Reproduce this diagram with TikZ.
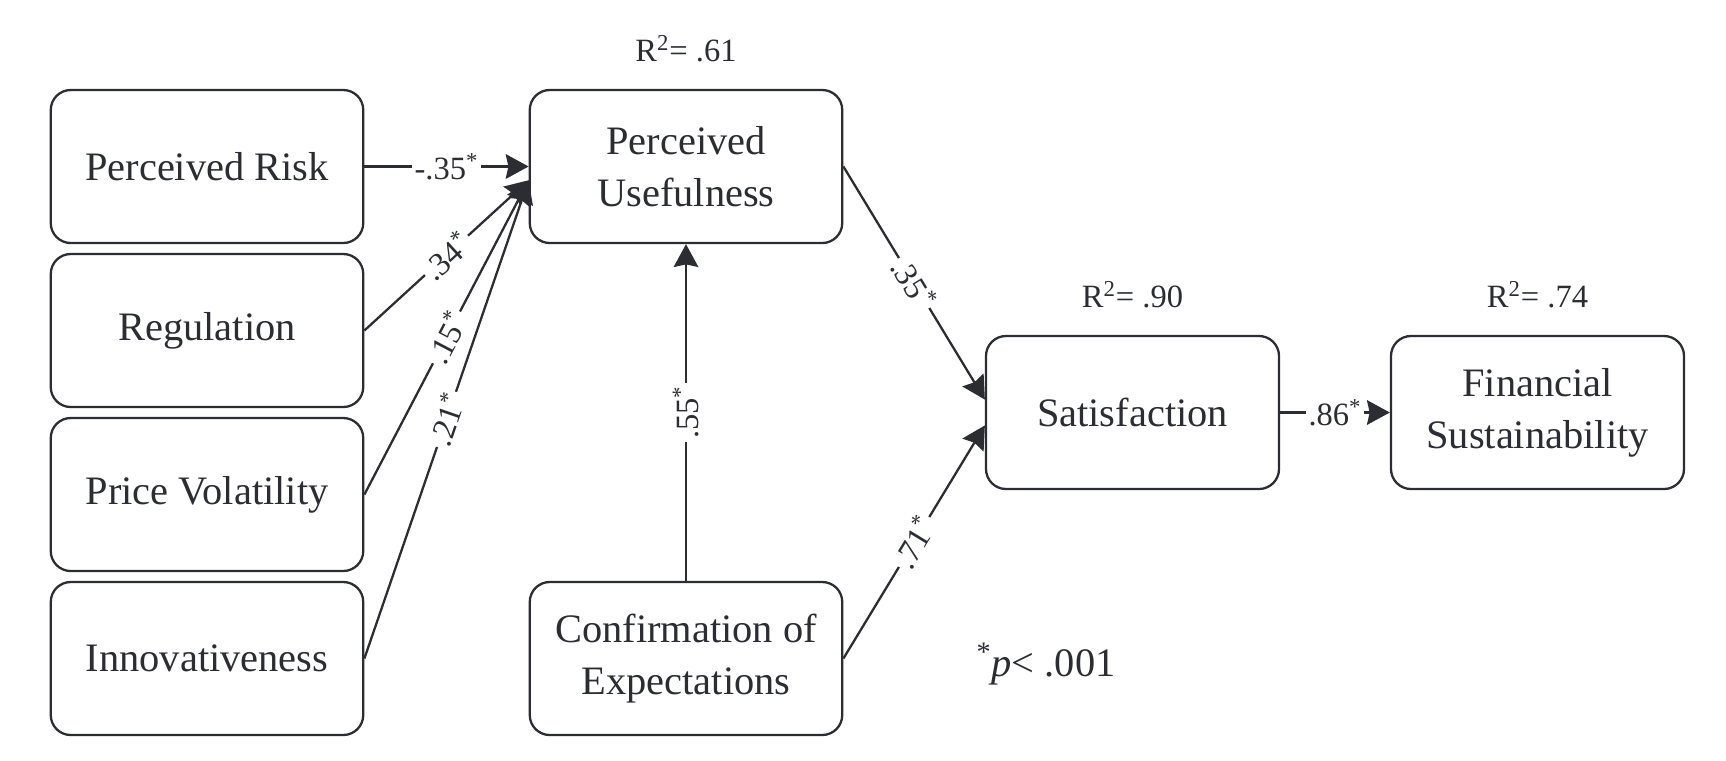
\documentclass[tikz,border=0pt]{standalone}
\usepackage{fontspec}
\setmainfont{Liberation Serif}
\usetikzlibrary{arrows.meta,positioning}
\definecolor{inkgray}{RGB}{43,45,51}
\tikzset{
  factor/.style={draw=inkgray, line width=1.3pt, rounded corners=0.4cm,
    minimum width=6.25cm, minimum height=3.06cm, align=center,
    text=inkgray, font=\fontsize{23}{29.5}\selectfont},
  link/.style={draw=inkgray, line width=1.3pt,
    -{Stealth[length=13pt,width=14pt,inset=1.5pt]}},
  coef/.style={fill=white, inner sep=1.5pt, sloped, text=inkgray,
    font=\fontsize{18.5}{22}\selectfont},
  rsq/.style={text=inkgray, font=\fontsize{18.5}{22}\selectfont}
}
\begin{document}
\begin{tikzpicture}
        \useasboundingbox (0,0) rectangle (34.52,-15.2);
        %% Predictors
        \node[factor] (risk) at (4.14,-3.33) {Perceived Risk};
        \node[factor] (regul) at (4.14,-6.61) {Regulation};
        \node[factor] (volat) at (4.14,-9.89) {Price Volatility};
        \node[factor] (innov) at (4.14,-13.17) {Innovativeness};
        %% Middle
        \node[factor] (useful) at (13.72,-3.33) {Perceived\\Usefulness};
        \node[factor] (confirm) at (13.72,-13.17) {Confirmation of\\Expectations};
        %% Outcomes
        \node[factor,minimum width=5.86cm] (satisf) at (22.65,-8.25) {Satisfaction};
        \node[factor,minimum width=5.86cm] (finsus) at (30.75,-8.25) {Financial\\Sustainability};
        %% R squared
        \node[rsq,above=0.42cm of useful] (rsqa) {R\textsuperscript{2}= .61};
        \node[rsq,above=0.42cm of satisf] (rsqb) {R\textsuperscript{2}= .90};
        \node[rsq,above=0.42cm of finsus] (rsqc) {R\textsuperscript{2}= .74};
        %% Paths
        \draw[link] (risk) -- node[coef] {-.35\textsuperscript{*}} (useful);
        \draw[link] (regul.east) -- node[coef] {.34\textsuperscript{*}} (useful.185);
        \draw[link] (volat.east) -- node[coef] {.15\textsuperscript{*}} (useful.185);
        \draw[link] (innov.east) -- node[coef] {.21\textsuperscript{*}} (useful.185);
        \draw[link] (confirm) -- node[coef] {.55\textsuperscript{*}} (useful);
        \draw[link] (useful.east) -- node[coef] {.35\textsuperscript{*}} (satisf.175);
        \draw[link] (confirm.east) -- node[coef] {.71\textsuperscript{*}} (satisf.185);
        \draw[link] (satisf) -- node[coef] {.86\textsuperscript{*}} (finsus);
        %% Note
        \node[text=inkgray,font=\fontsize{23}{27}\selectfont] (note) at (20.92,-13.28)
            {\textsuperscript{*}\textit{p}< .001};
    \end{tikzpicture}
\end{document}
